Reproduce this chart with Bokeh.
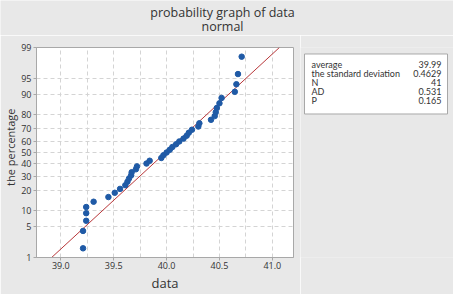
from statistics import NormalDist
import numpy as np
from bokeh.plotting import figure
from bokeh.models import Range1d, FixedTicker, ColumnDataSource, Title
from bokeh.layouts import column, row
from bokeh.embed import file_html
from bokeh.resources import INLINE
from bokeh.core.properties import value

# ---------------- data ----------------
title_lines = ["probability graph of data", "normal"]
x_label = "data"
y_label = "the percentage"

data_values = [39.21, 39.21, 39.24, 39.24, 39.24, 39.31, 39.45, 39.51, 39.56, 39.61,
               39.63, 39.645, 39.665, 39.67, 39.71, 39.72, 39.81, 39.84, 39.95, 39.97,
               40.00, 40.03, 40.055, 40.09, 40.12, 40.16, 40.19, 40.21, 40.24, 40.30,
               40.31, 40.42, 40.455, 40.465, 40.475, 40.50, 40.52, 40.645, 40.66, 40.675,
               40.71]
percent_values = [1.69, 4.11, 6.52, 8.94, 11.35, 13.77, 16.18, 18.60, 21.01, 23.43,
                  25.85, 28.26, 30.68, 33.09, 35.51, 37.92, 40.34, 42.75, 45.17, 47.58,
                  50.00, 52.42, 54.83, 57.25, 59.66, 62.08, 64.49, 66.91, 69.32, 71.74,
                  74.15, 76.57, 78.99, 81.40, 83.82, 86.23, 88.65, 91.06, 93.48, 95.89,
                  98.31]
fit_mean = 39.99
fit_sd = 0.4629
y_tick_percents = [1, 5, 10, 20, 30, 40, 50, 60, 70, 80, 90, 95, 99]
x_tick_values = [39.0, 39.5, 40.0, 40.5, 41.0]
x_tick_labels = ["39.0", "39.5", "40.0", "40.5", "41.0"]
stats_names = ["average", "the standard deviation", "N", "AD", "P"]
stats_values = ["39.99", "0.4629", "41", "0.531", "0.165"]

# ---------------- styling ----------------
BG = "#e8e8e8"
FONT = "Open Sans"
BOX_FONT = "Lato"
TXT = "#333333"
nd = NormalDist()

def zq(pct):
    return nd.inv_cdf(pct / 100.0)

W, H = 453, 294
TOP_H = 35

# ---------------- title strip ----------------
t = figure(width=W, height=TOP_H, x_range=Range1d(0, W), y_range=Range1d(TOP_H, 0),
           toolbar_location=None, output_backend="svg", x_axis_type=None, y_axis_type=None,
           min_border=0, title=None)
t.grid.visible = False
t.outline_line_color = None
t.background_fill_color = BG
t.border_fill_color = BG
t.text(x=[222, 222], y=[12, 26], text=title_lines, text_align="center",
       text_baseline="middle", text_font=value(FONT),
       text_font_size={"value": "12.5px"}, text_color=TXT)

# ---------------- main probability plot ----------------
PW = 300
PH = H - TOP_H
y_ticks = [round(zq(v), 6) for v in y_tick_percents]
p = figure(width=PW, height=PH, toolbar_location=None, output_backend="svg", title=None,
           x_range=Range1d(38.77, 41.2), y_range=Range1d(y_ticks[0], y_ticks[-1]),
           min_border_left=33, min_border_right=7, min_border_top=12, min_border_bottom=36)
p.background_fill_color = "white"
p.border_fill_color = BG
p.outline_line_color = "#a8a8a8"

p.xaxis.ticker = FixedTicker(ticks=x_tick_values)
p.xaxis.major_label_overrides = {v: s for v, s in zip(x_tick_values, x_tick_labels)}
p.yaxis.ticker = FixedTicker(ticks=y_ticks)
p.yaxis.major_label_overrides = {tk: str(v) for tk, v in zip(y_ticks, y_tick_percents)}
for ax in (p.xaxis[0], p.yaxis[0]):
    ax.axis_line_color = "#a8a8a8"
    ax.major_tick_line_color = "#a8a8a8"
    ax.major_tick_out = 3
    ax.major_tick_in = 0
    ax.minor_tick_line_color = None
    ax.major_label_text_font = FONT
    ax.major_label_text_font_size = "9px"
    ax.major_label_text_color = TXT
    ax.axis_label_text_font = FONT
    ax.axis_label_text_font_style = "normal"
    ax.axis_label_text_color = TXT
p.xaxis.major_label_standoff = 1
p.yaxis.major_label_standoff = 2
p.xaxis.axis_label = x_label
p.xaxis.axis_label_text_font_size = "13px"
p.xaxis.axis_label_standoff = 2

# y-axis title placed as a side title so it can sit a little above centre
p.add_layout(Title(text=y_label, align="right", offset=61, standoff=1,
                   text_font=FONT, text_font_size="11px", text_font_style="normal",
                   text_color=TXT), "left")

p.xgrid.ticker = FixedTicker(ticks=list(np.arange(39.0, 41.01, 0.25)))
p.ygrid.ticker = FixedTicker(ticks=y_ticks)
for g in (p.xgrid[0], p.ygrid[0]):
    g.grid_line_color = "#d4d4d4"
    g.grid_line_dash = "4 3"
    g.grid_line_width = 1

# fitted line
fit_pcts = [y_tick_percents[0], y_tick_percents[-1]]
fit_x = [fit_mean + fit_sd * zq(v) for v in fit_pcts]
fit_y = [zq(v) for v in fit_pcts]
p.line(fit_x, fit_y, line_color="#b8373a", line_width=1)

src = ColumnDataSource(dict(x=data_values, y=[zq(v) for v in percent_values]))
p.scatter("x", "y", source=src, size=5.5, fill_color="#1f5aa6", line_color="#1f5aa6")

# ---------------- statistics box ----------------
SW = W - PW
s = figure(width=SW, height=PH, x_range=Range1d(0, SW), y_range=Range1d(PH, 0),
           toolbar_location=None, output_backend="svg", x_axis_type=None, y_axis_type=None,
           min_border=0, title=None)
s.grid.visible = False
s.outline_line_color = None
s.background_fill_color = BG
s.border_fill_color = BG
s.quad(left=[4], right=[147], top=[8], bottom=[82], fill_color="white",
       line_color="#a8a8a8", line_width=1)
row_y = [21 + 11 * i for i in range(len(stats_names))]
s.text(x=[11] * len(stats_names), y=row_y, text=stats_names, text_align="left",
       text_baseline="middle", text_font=value(BOX_FONT), text_font_size={"value": "9px"},
       text_color=TXT)
s.text(x=[141] * len(stats_values), y=row_y, text=stats_values, text_align="right",
       text_baseline="middle", text_font=value(BOX_FONT), text_font_size={"value": "9px"},
       text_color=TXT)

layout = column(t, row(p, s))
open("out.html", "w").write(file_html(layout, INLINE))
